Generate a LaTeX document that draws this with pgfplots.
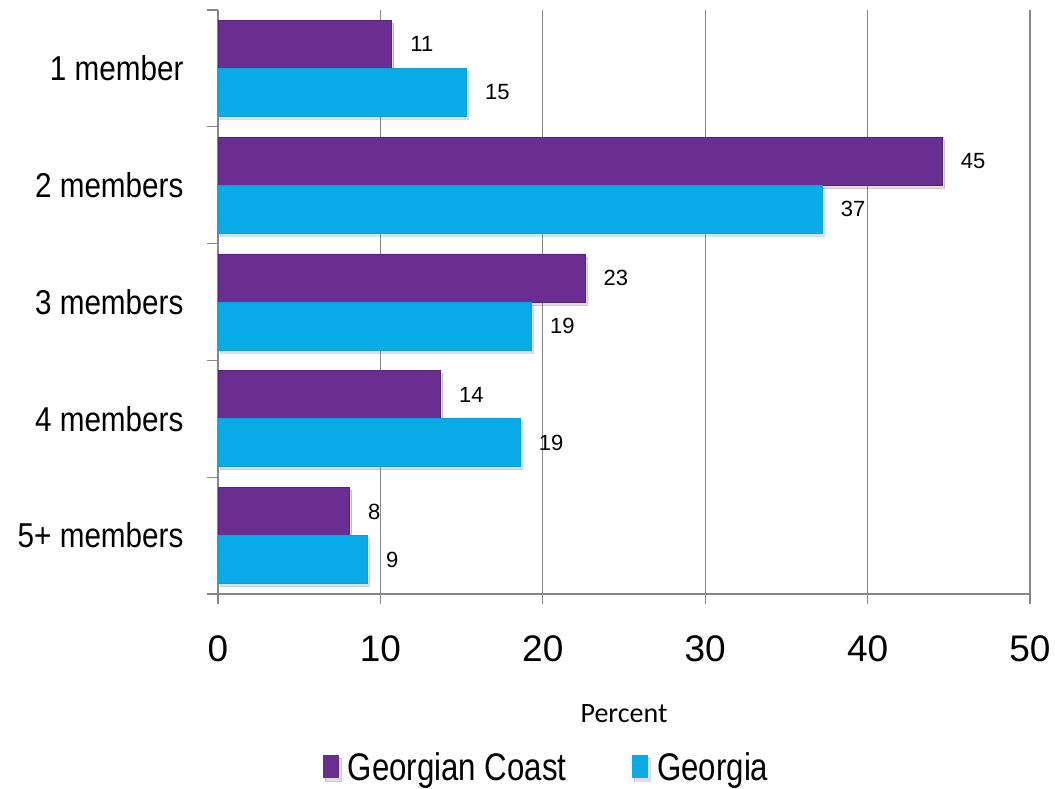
\documentclass[border=0pt]{standalone}
\usepackage{pgfplots}
\pgfplotsset{compat=1.18}
\usetikzlibrary{shadows}
\usepackage{fontspec}
\setmainfont{Liberation Sans}
\newfontfamily\narrowfont[FakeStretch=0.86]{Liberation Sans}
\newfontfamily\legfont[FakeStretch=0.81]{Liberation Sans}
\newfontfamily\calfont{Carlito}
\definecolor{gcpurple}{RGB}{106,45,145}
\definecolor{gablue}{RGB}{9,171,231}
\definecolor{gridgray}{RGB}{134,134,134}
\begin{document}
\begin{tikzpicture}
\useasboundingbox (0,0) rectangle (1055pt,789pt);
\begin{axis}[
  at={(218pt,195pt)}, anchor=south west,
  scale only axis, width=812pt, height=584pt,
  xbar, bar width=48pt,
  xmin=0, xmax=50, ymin=-0.5, ymax=4.5,
  xtick={0,10,...,50},
  ytick={0,1,2,3,4},
  yticklabels={5+ members,4 members,3 members,2 members,1 member},
  minor ytick={-0.5,0.5,1.5,2.5,3.5,4.5},
  axis lines=left,
  axis line style={-, draw=gridgray, line width=1.2pt},
  xmajorgrids,
  grid style={gridgray, line width=1.2pt},
  tick align=outside,
  major tick length=10pt, minor tick length=11pt,
  major x tick style={gridgray, line width=1.2pt},
  major y tick style={draw=none},
  minor y tick style={gridgray, line width=1.2pt},
  /pgf/number format/assume math mode=true,
  xticklabel style={font=\fontsize{37}{40}\selectfont, yshift=-28pt},
  yticklabel style={font=\narrowfont\fontsize{34.5}{40}\selectfont, xshift=-21pt},
  xlabel={Percent},
  xlabel style={font=\calfont\fontsize{28}{30}\selectfont, yshift=-36pt},
  point meta=x,
  nodes near coords={\pgfmathprintnumber[fixed,precision=0,assume math mode=true]{\pgfplotspointmeta}},
  nodes near coords align={horizontal},
  every node near coord/.append style={font=\fontsize{22}{24}\selectfont, anchor=west, xshift=15pt, text=black},
  legend columns=2,
  legend style={draw=none, fill=none, at={(0.129,-0.296)}, anchor=west, inner xsep=0pt,
    font=\legfont\fontsize{38.5}{42}\selectfont,
    /tikz/every odd column/.append style={column sep=7pt},
    /tikz/every even column/.append style={column sep=64pt}},
  legend image code/.code={\fill[#1, draw=none] (0pt,-11.5pt) rectangle (16pt,11.5pt);},
]
\addplot[fill=gcpurple, draw=gcpurple!80!black, line width=0.6pt, bar shift=24pt,
  drop shadow={shadow xshift=2pt, shadow yshift=-3pt, opacity=0.25}]
  coordinates {(8.1,0) (13.7,1) (22.6,2) (44.6,3) (10.7,4)};
\addplot[fill=gablue, draw=cyan!50!gablue, line width=0.8pt, bar shift=-24pt,
  drop shadow={shadow xshift=2pt, shadow yshift=-3pt, opacity=0.25}]
  coordinates {(9.2,0) (18.6,1) (19.3,2) (37.2,3) (15.3,4)};
\legend{Georgian Coast,Georgia}
\end{axis}
\end{tikzpicture}
\end{document}
